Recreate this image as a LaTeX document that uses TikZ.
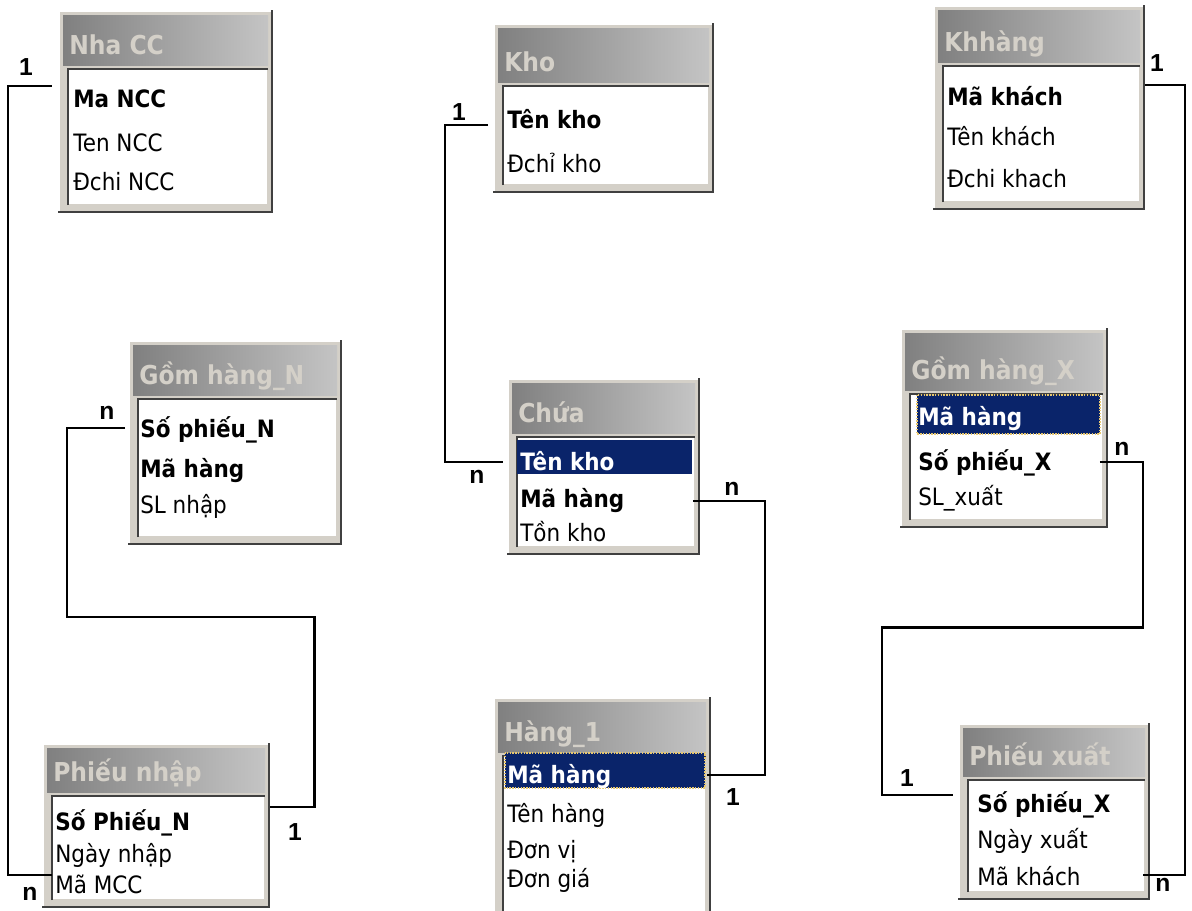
\documentclass[tikz,border=0pt]{standalone}
\usepackage{fontspec}
\setmainfont{DejaVu Sans}[FakeStretch=0.9]
\newfontfamily\lblfont{Liberation Sans}
\usetikzlibrary{fit}

\definecolor{winface}{HTML}{D4D0C8}
\definecolor{windark}{HTML}{404040}
\definecolor{winshadow}{HTML}{808080}
\definecolor{wintitle}{HTML}{C4C4C4}
\definecolor{selnavy}{HTML}{0A246A}
\definecolor{focusdot}{HTML}{E8C870}

\tikzset{
  fld/.style={anchor=base west, inner sep=0pt, font=\fontsize{17}{20}\selectfont},
  key/.style={fld, font=\fontsize{17}{20}\selectfont\bfseries},
  sel/.style={key, text=white},
  tbltitle/.style={anchor=base west, inner sep=0pt, text=winface,
    font=\fontsize{18.5}{21}\selectfont\bfseries},
  card/.style={inner sep=0pt, font=\lblfont\fontsize{17.5}{20}\selectfont\bfseries},
  conn/.style={draw, line width=1.5pt},
}

% #1 name, #2 title, #3 left, #4 top, #5 right, #6 bottom, #7 bottom of title bar
\newcommand{\dbtable}[7]{%
  \path (#3,#4) coordinate (#1-nw) (#5,#6) coordinate (#1-se);
  \node[fill=winface, inner sep=0pt, outer sep=0pt, fit=(#1-nw)(#1-se)] (#1) {};
  \draw[white, line width=1.5pt] (#3+1,#6-2) |- (#5-2,#4+1);
  \draw[windark, line width=1.5pt] (#3,#6-1) -| (#5-1,#4);
  \shade[left color=winshadow, right color=wintitle] (#3+5,#4+5) rectangle (#5-5,#7);
  \fill[white] (#3+10,#7+4) rectangle (#5-5,#6-8);
  \draw[windark, line width=1.5pt] (#3+10,#6-8) |- (#5-5,#7+4);
  \draw[winface, line width=1.2pt] (#3+11,#6-8) -| (#5-5,#7+5);
  \node[tbltitle] (#1-t) at (#3+11,{#7-11}) {#2};
}

\begin{document}
\begin{tikzpicture}[x=0.025cm, y=-0.025cm]
\useasboundingbox (0,0) rectangle (1192,910);
\clip (0,0) rectangle (1192,910);

% tables
\dbtable{ncc}{Nha CC}{58}{10}{273}{213}{65}
\dbtable{kho}{Kho}{493}{23}{714}{193}{82}
\dbtable{kh}{Khhàng}{933}{5}{1145}{210}{62}
\dbtable{gn}{Gồm hàng\_N}{128}{340}{342}{545}{395}
\dbtable{chua}{Chứa}{507}{378}{700}{555}{433}
\dbtable{gx}{Gồm hàng\_X}{900}{328}{1108}{528}{390}
\dbtable{pn}{Phiếu nhập}{42}{743}{270}{908}{792}
\dbtable{hang}{Hàng\_1}{493}{697}{711}{922}{752}
\dbtable{px}{Phiếu xuất}{958}{723}{1150}{900}{776}

% selected rows
\fill[selnavy] (517,440) rectangle (692,474);
\fill[selnavy] (917,395) rectangle (1100,434);
\fill[selnavy] (505,753) rectangle (705,788);
\draw[focusdot, densely dotted, line width=1pt] (917,395) rectangle (1100,434);
\draw[focusdot, densely dotted, line width=1pt] (505,753) rectangle (705,788);

% fields
\node[key] (ncc-1) at (73,107) {Ma NCC};
\node[fld] (ncc-2) at (73,151) {Ten NCC};
\node[fld] (ncc-3) at (73,190) {Đchi NCC};

\node[key] (kho-1) at (507,128) {Tên kho};
\node[fld] (kho-2) at (507,172) {Đchỉ kho};

\node[key] (kh-1) at (947,105) {Mã khách};
\node[fld] (kh-2) at (947,145) {Tên khách};
\node[fld] (kh-3) at (947,187) {Đchi khach};

\node[key] (gn-1) at (140,437) {Số phiếu\_N};
\node[key] (gn-2) at (140,477) {Mã hàng};
\node[fld] (gn-3) at (140,513) {SL nhập};

\node[sel] (chua-1) at (520,470) {Tên kho};
\node[key] (chua-2) at (520,507) {Mã hàng};
\node[fld] (chua-3) at (520,541) {Tồn kho};

\node[sel] (gx-1) at (918,425) {Mã hàng};
\node[key] (gx-2) at (918,470) {Số phiếu\_X};
\node[fld] (gx-3) at (918,505) {SL\_xuất};

\node[key] (pn-1) at (55,830) {Số Phiếu\_N};
\node[fld] (pn-2) at (55,862) {Ngày nhập};
\node[fld] (pn-3) at (55,893) {Mã MCC};

\node[sel] (hang-1) at (507,783) {Mã hàng};
\node[fld] (hang-2) at (507,822) {Tên hàng};
\node[fld] (hang-3) at (507,858) {Đơn vị};
\node[fld] (hang-4) at (507,887) {Đơn giá};

\node[key] (px-1) at (977,812) {Số phiếu\_X};
\node[fld] (px-2) at (977,848) {Ngày xuất};
\node[fld] (px-3) at (977,885) {Mã khách};

% relationships
\draw[conn] ([xshift=-4.3pt,yshift=14.9pt]ncc.west |- ncc-1.base) -- ++(-31.2pt,0)
  |- ([xshift=7.1pt,yshift=12.8pt]pn.west |- pn-3.base);
\draw[conn] ([xshift=-3.5pt,yshift=2.1pt]kho.west |- kho-1.base) -- ++(-30.5pt,0)
  |- ([xshift=-2.8pt,yshift=5.7pt]chua.west |- chua-1.base);
\draw[conn] ([xshift=-2.1pt,yshift=6.4pt]gn.west |- gn-1.base) -- ++(-41.1pt,0)
  -- ++(0,-134.7pt) -- ++(175.8pt,0) |- ([yshift=16.3pt]pn.east |- pn-1.base);
\draw[conn] ([xshift=-5pt,yshift=4.3pt]chua.east |- chua-2.base) -- ++(51pt,0)
  |- ([xshift=-2.8pt,yshift=5.7pt]hang.east |- hang-1.base);
\draw[conn] ([xshift=-5.7pt,yshift=5.7pt]gx.east |- gx-2.base) -- ++(30.5pt,0)
  -- ++(0,-117.7pt) -- ++(-185.7pt,0) |- ([xshift=-3.5pt,yshift=12pt]px.west |- px-1.base);
\draw[conn] ([yshift=14.2pt]kh.east |- kh-1.base) -- ++(28.4pt,0)
  |- ([xshift=-5pt,yshift=7.1pt]px.east |- px-3.base);

% cardinalities
\node[card] (ncc-m) at (26,67) {1};
\node[card] (pn-m1) at (30,894) {n};
\node[card] (kho-m) at (459,112) {1};
\node[card] (chua-m1) at (477,477) {n};
\node[card] (gn-m) at (107,413) {n};
\node[card] (pn-m2) at (295,832) {1};
\node[card] (chua-m2) at (732,489) {n};
\node[card] (hang-m) at (733,797) {1};
\node[card] (gx-m) at (1122,449) {n};
\node[card] (px-m1) at (907,778) {1};
\node[card] (kh-m) at (1157,63) {1};
\node[card] (px-m2) at (1163,885) {n};
\end{tikzpicture}
\end{document}
